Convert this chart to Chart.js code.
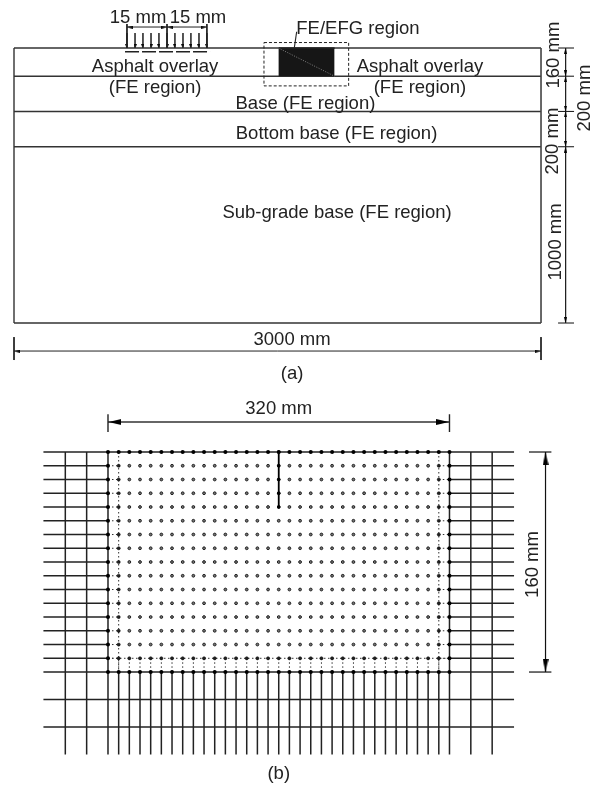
<!DOCTYPE html>
<html>
<head>
<meta charset="utf-8">
<title>FE/EFG pavement model</title>
<script src="https://cdn.jsdelivr.net/npm/chart.js@4/dist/chart.umd.js"></script>
<style>
  html, body { margin: 0; background: #fff; }
  canvas { position: absolute; left: 0; }
  #chartA { top: 0; }
  #chartB { top: 390px; }
</style>
</head>
<body>
<canvas id="chartA" width="596" height="390"></canvas>
<canvas id="chartB" width="596" height="397"></canvas>
<script>
'use strict';
// (a) whole pavement, units are mm as drawn
const layerDepths = [0, 160, 360, 560, 1560];
const modelWidth = 3000;
const loadX = [643, 689, 734, 780, 825, 871, 916, 962, 1007, 1053, 1098];
const loadTickX = [643, 871, 1098];
const efgX = [1505, 1825];
const efgY = [0, 160];
const efgBoxX = [1423, 1905];
const efgBoxY = [-31, 215];

const labelsA = ['15 mm', '15 mm', 'FE/EFG region', 'Asphalt overlay', '(FE region)', 'Asphalt overlay', '(FE region)',
    'Base (FE region)', 'Bottom base (FE region)', 'Sub-grade base (FE region)', '3000 mm', '(a)',
    '160 mm', '200 mm', '200 mm', '1000 mm'];
const labelsAx = [706, 1047, 1958, 803, 803, 2311, 2311, 1659, 1836, 1839, 1583, 1583, 3068, 3245, 3063, 3080];
const labelsAy = [-176, -176, -113, 102, 221, 102, 221, 310, 482, 930, 1651, 1844, 40, 284, 528, 1100];
const labelsArot = [0, 0, 0, 0, 0, 0, 0, 0, 0, 0, 0, 0, 1, 1, 1, 1];

// (b) mesh around the crack
const meshX = [-40, -20, 0, 10, 20, 30, 40, 50, 60, 70, 80, 90, 100, 110, 120, 130, 140, 150, 160, 170, 180, 190,
    200, 210, 220, 230, 240, 250, 260, 270, 280, 290, 300, 310, 320, 340, 360];
const meshY = [0, 10, 20, 30, 40, 50, 60, 70, 80, 90, 100, 110, 120, 130, 140, 150, 160, 180, 200];
const crackY = [0, 10, 20, 30, 40];
const crackX = 160;

const labelsB = ['320 mm', '160 mm', '(b)'];
const labelsBx = [160, 397, 160];
const labelsBy = [-32, 81.8, 233.5];
const labelsBrot = [0, 1, 0];

const INK = '#222';

function arrowImage(len, wid) {
    let c = document.createElement('canvas');
    c.width = wid;
    c.height = len;
    let g = c.getContext('2d');
    g.fillStyle = '#000';
    g.beginPath();
    g.moveTo(wid / 2, 0);
    g.lineTo(wid, len);
    g.lineTo(0, len);
    g.fill();
    return c;
}
const tinyArrow = arrowImage(4, 3);
const smallArrow = arrowImage(6, 3);
const bigArrow = arrowImage(13, 6);

function line(pts, width, color, dash) {
    return {
        data: pts.map(p => ({ x: p[0], y: p[1] })),
        showLine: true,
        borderColor: color || INK,
        borderWidth: width || 1.4,
        borderDash: dash || [],
        pointRadius: 0,
        fill: false
    };
}

function heads(pts, rotations, img) {
    return {
        data: pts.map(p => ({ x: p[0], y: p[1] })),
        showLine: false,
        pointStyle: img,
        pointRotation: rotations,
        pointRadius: 4
    };
}

function dots(pts, radius, fillColor, edgeColor, edgeWidth) {
    return {
        data: pts.map(p => ({ x: p[0], y: p[1] })),
        showLine: false,
        pointStyle: 'circle',
        pointRadius: radius,
        pointBackgroundColor: fillColor,
        pointBorderColor: edgeColor,
        pointBorderWidth: edgeWidth
    };
}

function labelPlugin(texts, xs, ys, rots) {
    return {
        id: 'figureLabels',
        afterDatasetsDraw(chart) {
            let ctx = chart.ctx;
            ctx.save();
            ctx.font = '18.5px "Liberation Sans"';
            ctx.fillStyle = INK;
            ctx.textAlign = 'center';
            ctx.textBaseline = 'middle';
            for (let i = 0; i < texts.length; i++) {
                ctx.save();
                ctx.translate(chart.scales.x.getPixelForValue(xs[i]), chart.scales.y.getPixelForValue(ys[i]));
                if (rots[i]) ctx.rotate(-Math.PI / 2);
                ctx.fillText(texts[i], 0, 1);
                ctx.restore();
            }
            ctx.restore();
        }
    };
}

function drawFigure(id, datasets, xMin, xMax, yMin, yMax, plugin) {
    // first dataset is painted last by chart.js, so flip to keep push order = paint order
    new Chart(document.getElementById(id), {
        type: 'scatter',
        data: { datasets: datasets.reverse() },
        options: {
            responsive: false,
            animation: false,
            layout: { padding: 0, autoPadding: false },
            plugins: { legend: { display: false }, tooltip: { enabled: false } },
            scales: {
                x: { type: 'linear', display: false, min: xMin, max: xMax },
                y: { type: 'linear', display: false, reverse: true, min: yMin, max: yMax }
            }
        },
        plugins: [plugin]
    });
}

// ---- figure (a)
let setsA = [];
for (let i = 0; i < layerDepths.length; i++) {
    setsA.push(line([[0, layerDepths[i]], [modelWidth, layerDepths[i]]], 1.4, '#333'));
}
setsA.push(line([[0, 0], [0, 1560]], 1.4, '#333'));
setsA.push(line([[modelWidth, 0], [modelWidth, 1560]], 1.6, '#444'));

// crack tip block
let efg = line([[efgX[0], efgY[0]], [efgX[1], efgY[0]]], 0);
efg.fill = { value: efgY[1] };
efg.backgroundColor = '#161616';
setsA.push(efg);
setsA.push(line([[efgX[0], efgY[0]], [efgX[1], efgY[1]]], 0.8, '#999', [1, 1.5]));
setsA.push(line([[efgBoxX[0], efgBoxY[0]], [efgBoxX[1], efgBoxY[0]], [efgBoxX[1], efgBoxY[1]],
    [efgBoxX[0], efgBoxY[1]], [efgBoxX[0], efgBoxY[0]]], 1, '#222', [3, 2]));
setsA.push(line([[1596, -2], [1609, -92]], 1.1, '#222'));

// wheel load arrows
for (let i = 0; i < loadX.length; i++) {
    setsA.push(line([[loadX[i], -85], [loadX[i], 0]], 0.9, '#333'));
}
setsA.push(heads(loadX.map(x => [x, -12]), 180, tinyArrow));
for (let i = 0; i < loadTickX.length; i++) {
    setsA.push(line([[loadTickX[i], -136], [loadTickX[i], 0]], 1, '#222'));
}
setsA.push(line([[643, -119], [1098, -119]], 1, '#222'));
setsA.push(heads([[660, -119], [854, -119], [888, -119], [1081, -119]], [270, 90, 270, 90], smallArrow));
setsA.push(line([[632, 21], [1116, 21]], 1.4, '#222', [14, 3]));

// dimension column on the right
setsA.push(line([[3140, 0], [3140, 1560]], 1, '#222'));
for (let i = 0; i < layerDepths.length; i++) {
    setsA.push(line([[3097, layerDepths[i]], [3188, layerDepths[i]]], 1.1, '#222'));
}
setsA.push(heads([[3140, 16], [3140, 144], [3140, 176], [3140, 344], [3140, 376], [3140, 544], [3140, 576], [3140, 1544]],
    [0, 180, 0, 180, 0, 180, 0, 180], smallArrow));

// 3000 mm dimension
setsA.push(line([[0, 1719], [modelWidth, 1719]], 1, '#222'));
setsA.push(line([[0, 1640], [0, 1770]], 1, '#222'));
setsA.push(line([[modelWidth, 1640], [modelWidth, 1770]], 1, '#222'));
setsA.push(heads([[18, 1719], [modelWidth - 18, 1719]], [270, 90], smallArrow));

drawFigure('chartA', setsA, -79.7, 3313, -272.3, 1940, labelPlugin(labelsA, labelsAx, labelsAy, labelsArot));

// ---- figure (b)
let setsB = [];
const meshLeft = -60.5, meshRight = 380.5, meshBottom = 220;

// dotted transition ring
let inX = meshX.filter(x => x >= 0 && x <= 320);
let inY = meshY.filter(y => y >= 0 && y <= 160);
const DOT = [1.5, 2.5];
setsB.push(line([[10, 0], [10, 160]], 1, '#333', DOT));
setsB.push(line([[310, 0], [310, 160]], 1, '#333', DOT));
setsB.push(line([[0, 150], [320, 150]], 1, '#333', DOT));
for (let i = 1; i < inY.length - 1; i++) {
    setsB.push(line([[0, inY[i]], [10, inY[i]]], 1, '#333', DOT));
    setsB.push(line([[310, inY[i]], [320, inY[i]]], 1, '#333', DOT));
}
for (let i = 1; i < inX.length - 1; i++) {
    setsB.push(line([[inX[i], 150], [inX[i], 160]], 1, '#333', DOT));
}

// fe mesh lines
for (let i = 0; i < meshY.length; i++) {
    let y = meshY[i];
    if (y > 0 && y < 160) {
        setsB.push(line([[meshLeft, y], [0, y]], 1.5));
        setsB.push(line([[320, y], [meshRight, y]], 1.5));
    } else {
        setsB.push(line([[meshLeft, y], [meshRight, y]], 1.5));
    }
}
for (let i = 0; i < meshX.length; i++) {
    let x = meshX[i];
    let from = (x > 0 && x < 320) ? 160 : 0;
    setsB.push(line([[x, from], [x, meshBottom]], 1.5));
}

// efg nodes
let innerNodes = [];
let edgeNodes = [];
for (let i = 0; i < inX.length; i++) {
    for (let j = 0; j < inY.length; j++) {
        let x = inX[i], y = inY[j];
        if (x === 0 || x === 320 || y === 0 || y === 160) edgeNodes.push([x, y]);
        else if (x === 10 || x === 310 || y === 150) innerNodes.push([x, y]);
    }
}
setsB.push(dots(edgeNodes, 2, '#000', '#000', 0));
setsB.push(dots(innerNodes, 1.6, '#222', '#000', 0.5));
let fieldNodes = [];
for (let i = 2; i < inX.length - 2; i++) {
    for (let j = 1; j < inY.length - 2; j++) {
        fieldNodes.push([inX[i], inY[j]]);
    }
}
setsB.push(dots(fieldNodes, 1.4, '#777', '#222', 1));

// crack
setsB.push(line([[crackX, crackY[0]], [crackX, crackY[crackY.length - 1]]], 1.8, '#000'));
setsB.push(dots(crackY.map(y => [crackX, y]), 1.7, '#000', '#000', 0));

// dimensions
setsB.push(line([[0, -21.8], [320, -21.8]], 1.5, '#333'));
setsB.push(line([[0, -27.5], [0, -14.5]], 1.4));
setsB.push(line([[320, -27.5], [320, -14.5]], 1.4));
setsB.push(heads([[6.5, -21.8], [313.5, -21.8]], [270, 90], bigArrow));
setsB.push(line([[410, 0], [410, 160]], 1.2, '#111'));
setsB.push(line([[394.5, 0], [415.5, 0]], 1.2, '#111'));
setsB.push(line([[394.5, 160], [415.5, 160]], 1.2, '#111'));
setsB.push(heads([[410, 5], [410, 155]], [0, 180], bigArrow));

drawFigure('chartB', setsB, -101.2, 457.3, -45.09, 243.6, labelPlugin(labelsB, labelsBx, labelsBy, labelsBrot));
</script>
</body>
</html>
